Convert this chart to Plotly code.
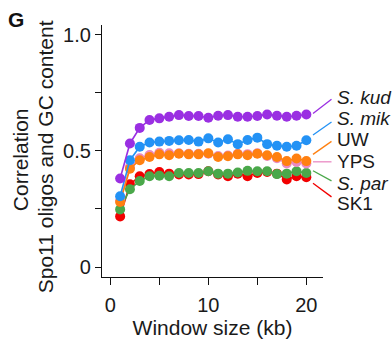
import plotly.graph_objects as go

window_kb = list(range(1, 21))

s_kud = [0.381, 0.532, 0.599, 0.633, 0.640, 0.647, 0.654, 0.650, 0.650, 0.643,
         0.651, 0.654, 0.647, 0.647, 0.650, 0.657, 0.651, 0.647, 0.651, 0.657]
s_mik = [0.305, 0.460, 0.518, 0.536, 0.540, 0.543, 0.546, 0.547, 0.540, 0.554,
         0.536, 0.550, 0.529, 0.547, 0.557, 0.529, 0.522, 0.518, 0.522, 0.546]
uw = [0.280, 0.423, 0.460, 0.474, 0.485, 0.481, 0.488, 0.485, 0.485, 0.490,
      0.474, 0.477, 0.485, 0.481, 0.488, 0.481, 0.474, 0.456, 0.467, 0.456]
yps = [0.285, 0.430, 0.468, 0.482, 0.492, 0.490, 0.490, 0.488, 0.488, 0.488,
       0.478, 0.480, 0.488, 0.486, 0.490, 0.478, 0.468, 0.446, 0.452, 0.446]
s_par = [0.248, 0.335, 0.370, 0.391, 0.393, 0.391, 0.405, 0.405, 0.405, 0.412,
         0.402, 0.402, 0.407, 0.414, 0.412, 0.412, 0.400, 0.402, 0.412, 0.405]
sk1 = [0.218, 0.356, 0.391, 0.400, 0.409, 0.402, 0.398, 0.398, 0.400, 0.412,
       0.398, 0.391, 0.402, 0.391, 0.405, 0.409, 0.402, 0.377, 0.391, 0.387]

series = [
    ("SK1", sk1, "#f20000"),
    ("<i>S. par</i>", s_par, "#4aa84a"),
    ("YPS", yps, "#ea8ac3"),
    ("UW", uw, "#ff8010"),
    ("<i>S. mik</i>", s_mik, "#2392f5"),
    ("<i>S. kud</i>", s_kud, "#9a2fe2"),
]

# label text center y (pixels) and leader line pixel coords
label_y_px = {"<i>S. kud</i>": 100, "<i>S. mik</i>": 122, "UW": 144,
              "YPS": 166, "<i>S. par</i>": 189, "SK1": 210}
leader_px = {"<i>S. kud</i>": (116.7, 102), "<i>S. mik</i>": (139, 125.5),
             "UW": (159, 145.5), "YPS": (166.7, 166.7),
             "<i>S. par</i>": (176, 186.5), "SK1": (189, 203)}

W, H = 392, 347
ML, MR, MT, MB = 102, 69, 25, 61
PW, PH = W - ML - MR, H - MT - MB

def px_x(x):
    return (x - ML) / PW

def px_y(y):
    return (H - MB - y) / PH

fig = go.Figure()
for name, vals, col in series:
    fig.add_trace(go.Scatter(
        x=window_kb, y=vals, mode="lines+markers", name=name,
        line=dict(color=col, width=1.6),
        marker=dict(color=col, size=10, line=dict(width=0)),
        showlegend=False, cliponaxis=False))

FONT = "Liberation Sans, Arial, sans-serif"
TXT = "#1a1a1a"
annotations = []
shapes = []
for name, vals, col in series:
    annotations.append(dict(
        x=px_x(335), y=px_y(label_y_px[name]), xref="paper", yref="paper",
        text=name, showarrow=False, xanchor="left", yanchor="middle",
        font=dict(size=19, color=TXT, family=FONT)))
    y0, y1 = leader_px[name]
    shapes.append(dict(type="line", xref="paper", yref="paper",
                       x0=px_x(313), y0=px_y(y0), x1=px_x(331.5), y1=px_y(y1),
                       line=dict(color=col, width=1.3)))

annotations.append(dict(x=px_x(6), y=px_y(19), xref="paper", yref="paper",
                        text="<b>G</b>", showarrow=False, xanchor="left",
                        yanchor="middle", font=dict(size=21, color="#111", family=FONT)))
annotations.append(dict(x=px_x(20), y=px_y(165), xref="paper", yref="paper",
                        text="Correlation", showarrow=False, textangle=-90,
                        xanchor="center", yanchor="middle",
                        font=dict(size=21, color=TXT, family=FONT)))
annotations.append(dict(x=px_x(45), y=px_y(162), xref="paper", yref="paper",
                        text="Spo11 oligos and GC content", showarrow=False, textangle=-90,
                        xanchor="center", yanchor="middle",
                        font=dict(size=21, color=TXT, family=FONT)))

fig.update_layout(
    width=W, height=H,
    margin=dict(l=ML, r=MR, t=MT, b=MB, pad=0),
    paper_bgcolor="white", plot_bgcolor="white",
    font=dict(family=FONT, color=TXT, size=20),
    annotations=annotations, shapes=shapes,
    xaxis=dict(range=[-0.85, 21.7], tickvals=[0, 5, 10, 15, 20],
               ticktext=["0", "", "10", "", "20"], showgrid=False, zeroline=False,
               showline=True, linecolor="#111", linewidth=1.3,
               ticks="outside", ticklen=7, tickwidth=1.3, tickcolor="#111",
               tickfont=dict(size=20), ticklabelstandoff=3,
               title=dict(text="Window size (kb)", font=dict(size=21), standoff=4)),
    yaxis=dict(range=[-0.043, 1.042], tickvals=[0, 0.25, 0.5, 0.75, 1.0],
               ticktext=["0", "", "0.5", "", "1.0"], showgrid=False, zeroline=False,
               showline=True, linecolor="#111", linewidth=1.3,
               ticks="outside", ticklen=6, tickwidth=1.3, tickcolor="#111",
               tickfont=dict(size=20)),
)

fig.write_html("out.html")
